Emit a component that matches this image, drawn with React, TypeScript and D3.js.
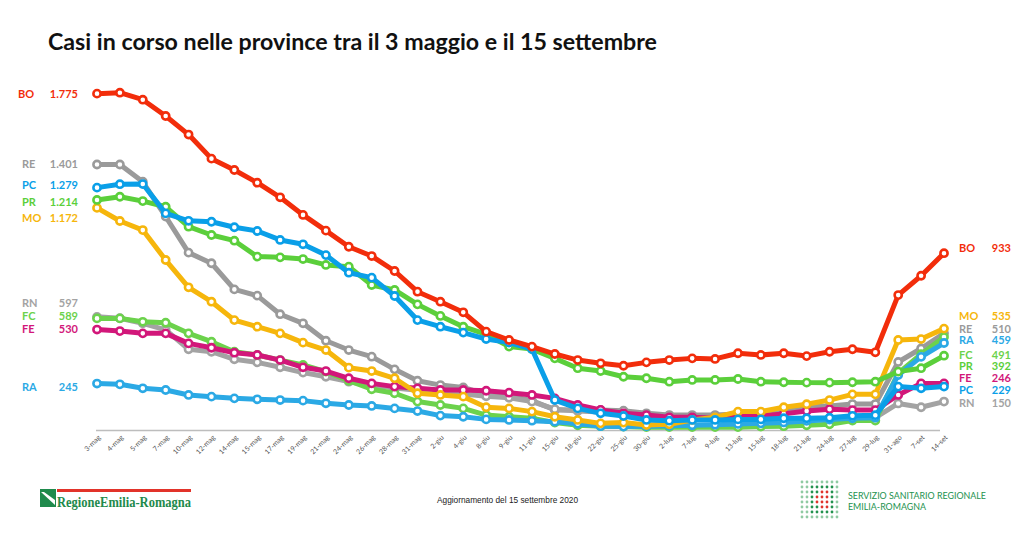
import React from "react";
import * as d3 from "d3";

const dates = ["3-mag","4-mag","5-mag","7-mag","10-mag","12-mag","14-mag","15-mag","17-mag","19-mag","21-mag","24-mag","26-mag","28-mag","31-mag","2-giu","4-giu","8-giu","9-giu","11-giu","15-giu","18-giu","22-giu","25-giu","30-giu","2-lug","7-lug","9-lug","13-lug","15-lug","18-lug","21-lug","24-lug","27-lug","29-lug","31-ago","7-set","14-set"];

const BO = [1775,1780,1743,1657,1559,1432,1372,1305,1228,1135,1052,967,918,839,730,677,621,519,475,440,401,369,352,339,357,369,378,375,405,396,405,390,413,426,410,712,814,933];
const RE = [1401,1401,1310,1126,936,880,742,709,611,563,471,422,387,320,260,237,225,188,181,155,106,106,106,102,88,79,79,79,85,88,92,123,127,137,137,359,430,510];
const PC = [1279,1297,1298,1143,1104,1099,1070,1050,1003,980,923,830,804,707,580,545,514,480,461,427,158,114,88,74,53,49,53,53,56,56,62,62,65,75,78,229,220,229];
const PR = [1214,1231,1208,1178,1073,1029,999,915,911,902,871,862,765,739,663,602,545,505,440,427,378,326,311,281,273,255,264,264,269,255,252,250,250,252,255,308,326,392];
const MO = [1172,1103,1055,897,753,677,580,545,510,461,422,329,311,273,194,185,176,120,114,97,70,53,35,39,26,30,53,67,97,97,120,136,158,188,188,475,480,535];
const RN = [597,590,563,528,426,413,373,357,331,303,281,255,235,222,210,200,190,178,170,150,110,100,95,85,75,68,62,58,55,55,58,60,62,65,65,140,120,150];
const FC = [589,589,571,566,510,466,413,396,369,343,308,260,215,194,150,132,114,79,70,62,39,25,20,18,15,15,15,15,15,18,20,25,30,50,50,300,400,491];
const FE = [530,522,510,510,457,434,408,396,369,331,311,273,246,229,220,211,211,207,197,185,167,132,106,88,79,67,67,62,70,75,85,100,110,105,105,185,246,246];
const RA = [245,241,220,211,185,176,167,162,158,155,141,132,127,114,100,76,70,56,53,49,44,33,20,18,20,22,25,28,32,35,40,48,55,62,65,290,386,459];

const provinces = ["RE","RN","FC","FE","RA","MO","PR","PC","BO"];
const seriesValues: Record<string, number[]> = { BO, RE, PC, PR, MO, RN, FC, FE, RA };
const firstLabels = ["1.775","1.401","1.279","1.214","1.172","597","589","530","245"];
const firstOrder = ["BO","RE","PC","PR","MO","RN","FC","FE","RA"];
const lastLabels = ["933","535","510","459","491","392","246","229","150"];
const lastOrder = ["BO","MO","RE","RA","FC","PR","FE","PC","RN"];

const colors: Record<string, string> = {
  BO: "#f22d0b",
  RE: "#9a9a9a",
  PC: "#0a9fe8",
  PR: "#5bcf3b",
  MO: "#f6b60c",
  RN: "#a3a3a3",
  FC: "#6cd24c",
  FE: "#d2177a",
  RA: "#2ba9e5",
};

// layout (label slots)
const leftY = [94, 164, 185, 201.5, 218, 302.5, 315.5, 329, 387];
const rightY = [248, 316, 328.5, 339.5, 355, 366, 378, 389.5, 403];

export default function App() {
  const W = 1024, H = 544;
  const x = d3.scalePoint<string>().domain(dates).range([97, 944]);
  const y = d3.scaleLinear().domain([0, 1800]).range([430, 430 - 1800 * 0.1895]);
  const line = d3.line<number>().x((_, i) => x(dates[i]) as number).y((v) => y(v)).curve(d3.curveLinear);
  const font = "Lato, 'Open Sans', sans-serif";

  const dots: { cx: number; cy: number; c: string }[] = [];
  for (let r = 0; r < 8; r++) {
    for (let c = 0; c < 8; c++) {
      const red = r >= 2 && r <= 5 && c >= 3 && c <= 5 && !((r === 2 || r === 5) && c === 3);
      const dark = !red && c >= 2 && c <= 6 && r >= 1 && r <= 6;
      dots.push({ cx: 802 + c * 5, cy: 482 + r * 5, c: red ? "#e0342c" : dark ? "#23924f" : "#8fcaa2" });
    }
  }

  return (
    <div style={{ position: "fixed", left: 0, top: 0 }}>
      <svg width={W} height={H} style={{ display: "block", background: "#fff" }}>
        <rect width={W} height={H} fill="#fff" />
        <text x={48} y={50} fontFamily={font} fontWeight={700} fontSize={23} fill="#111" textLength={609} lengthAdjust="spacingAndGlyphs">
          Casi in corso nelle province tra il 3 maggio e il 15 settembre
        </text>

        <line x1={96} x2={940} y1={430.5} y2={430.5} stroke="#bdbdbd" strokeWidth={1.5} />
        {dates.map((d) => (
          <text key={d} transform={`translate(${(x(d) as number) + 4},${438}) rotate(-45)`} textAnchor="end" fontFamily={font} fontSize={7} fill="#555">
            {d}
          </text>
        ))}

        {provinces.map((p) => (
          <g key={p}>
            <path d={line(seriesValues[p]) || ""} fill="none" stroke={colors[p]} strokeWidth={5} strokeLinejoin="round" strokeLinecap="round" />
            {seriesValues[p].map((v, i) => (
              <circle key={i} cx={x(dates[i]) as number} cy={y(v)} r={3.6} fill="#fff" stroke={colors[p]} strokeWidth={2.6} />
            ))}
          </g>
        ))}

        {firstOrder.map((p, i) => (
          <g key={"l" + p} fontFamily={font} fontWeight={700} fontSize={11} fill={colors[p]}>
            <text x={p === "BO" ? 18 : 22} y={leftY[i] + 4}>{p}</text>
            <text x={78} y={leftY[i] + 4} textAnchor="end">{firstLabels[i]}</text>
          </g>
        ))}
        {lastOrder.map((p, i) => (
          <g key={"r" + p} fontFamily={font} fontWeight={700} fontSize={11} fill={colors[p]}>
            <text x={959} y={rightY[i] + 4}>{p}</text>
            <text x={1011} y={rightY[i] + 4} textAnchor="end">{lastLabels[i]}</text>
          </g>
        ))}

        <text x={437} y={503} fontFamily="'Liberation Sans Narrow', 'Liberation Sans', sans-serif" fontSize={9} fill="#222" textLength={141} lengthAdjust="spacingAndGlyphs">
          Aggiornamento del 15 settembre 2020
        </text>

        <rect x={57} y={489} width={134} height={3} fill="#e2332a" />
        <rect x={40} y={489} width={16} height={18} fill="#1f8a4c" />
        <path d="M41,492 L55,505 L55,500 L44,492 Z" fill="#fff" />
        <text x={57} y={507} fontFamily="'Liberation Serif', serif" fontWeight={700} fontSize={15} fill="#1f8a4c" textLength={134} lengthAdjust="spacingAndGlyphs">
          RegioneEmilia-Romagna
        </text>

        {dots.map((d, i) => (
          <circle key={i} cx={d.cx} cy={d.cy} r={1.4} fill={d.c} />
        ))}
        <text x={848} y={499} fontFamily={font} fontSize={9} fill="#23924f" textLength={138} lengthAdjust="spacingAndGlyphs">
          SERVIZIO SANITARIO REGIONALE
        </text>
        <text x={848} y={510} fontFamily={font} fontSize={9} fill="#23924f" textLength={78} lengthAdjust="spacingAndGlyphs">
          EMILIA-ROMAGNA
        </text>
      </svg>
    </div>
  );
}
